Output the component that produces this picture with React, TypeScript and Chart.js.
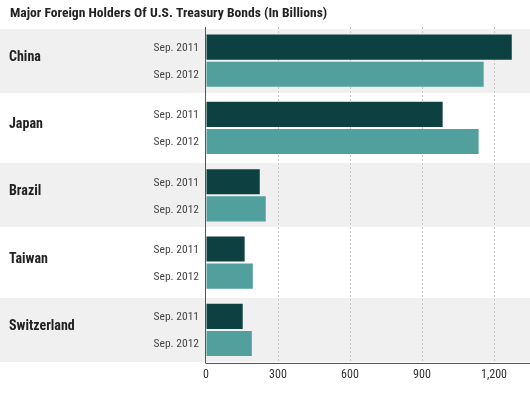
import React, { useEffect, useRef } from 'react';
import { Chart, registerables } from 'chart.js';

Chart.register(...registerables);

const chartTitle = 'Major Foreign Holders Of U.S. Treasury Bonds (In Billions)';
const countries = ['China', 'Japan', 'Brazil', 'Taiwan', 'Switzerland'];
const periods = ['Sep. 2011', 'Sep. 2012'];
const sep2011 = [1274, 986, 224, 161, 153];
const sep2012 = [1157, 1136, 249, 195, 191];
const xTicks = [0, 300, 600, 900, 1200];
const xMax = 1350;

const FONT = '"Liberation Sans Narrow", "Roboto Condensed", "Liberation Sans", Arial, sans-serif';
const DARK = '#0d4040';
const TEAL = '#52a09d';
const BAND = '#f0f0f0';

const decorPlugin = {
  id: 'decor',
  beforeDraw(chart: any) {
    const { ctx, width, height } = chart;
    const y = chart.scales.y;
    ctx.save();
    ctx.fillStyle = '#ffffff';
    ctx.fillRect(0, 0, width, height);
    ctx.fillStyle = BAND;
    countries.forEach((_, i) => {
      if (i % 2 === 0) {
        const c = y.getPixelForValue(i);
        ctx.fillRect(0, Math.round(c - 32), width, 64);
      }
    });
    ctx.restore();
  },
  afterDraw(chart: any) {
    const { ctx, chartArea } = chart;
    const x = chart.scales.x;
    const y = chart.scales.y;
    ctx.save();
    // left axis line
    const x0 = Math.round(x.getPixelForValue(0)) - 0.5;
    ctx.strokeStyle = '#555';
    ctx.lineWidth = 1;
    ctx.beginPath();
    ctx.moveTo(x0, chartArea.top);
    ctx.lineTo(x0, chartArea.bottom);
    ctx.stroke();

    // title
    ctx.fillStyle = '#222';
    ctx.textAlign = 'left';
    ctx.textBaseline = 'middle';
    ctx.font = `bold 13.6px ${FONT}`;
    ctx.fillText(chartTitle, 10, 14);

    // country labels
    ctx.font = `bold 14px ${FONT}`;
    ctx.fillStyle = '#222';
    countries.forEach((name, i) => {
      const c = y.getPixelForValue(i);
      ctx.fillText(name, 9, c - 3.5);
    });

    // period labels
    ctx.font = `11.5px ${FONT}`;
    ctx.fillStyle = '#444';
    ctx.textAlign = 'right';
    [0, 1].forEach((di) => {
      const meta = chart.getDatasetMeta(di);
      meta.data.forEach((bar: any) => {
        ctx.fillText(periods[di], 199, bar.y + 1);
      });
    });
    ctx.restore();
  },
};

export default function App() {
  const ref = useRef<HTMLCanvasElement>(null);
  useEffect(() => {
    if (!ref.current) return;
    const chart = new Chart(ref.current, {
      type: 'bar',
      data: {
        labels: countries,
        datasets: [
          {
            label: periods[0],
            data: sep2011,
            backgroundColor: DARK,
            categoryPercentage: 0.806,
            barPercentage: 0.926,
          },
          {
            label: periods[1],
            data: sep2012,
            backgroundColor: TEAL,
            categoryPercentage: 0.806,
            barPercentage: 0.926,
          },
        ],
      },
      options: {
        indexAxis: 'y',
        responsive: false,
        animation: false,
        layout: { padding: { left: 206, right: 0, top: 27, bottom: 11 } },
        plugins: {
          legend: { display: false },
          title: { display: false },
          tooltip: { enabled: false },
        },
        scales: {
          y: {
            type: 'category',
            display: false,
          },
          x: {
            type: 'linear',
            min: 0,
            max: xMax,
            afterBuildTicks: (s: any) => {
              s.ticks = xTicks.map((v) => ({ value: v }));
            },
            grid: {
              color: (ctx: any) => (ctx.tick && ctx.tick.value === 0 ? 'rgba(0,0,0,0)' : '#c8c8c8'),
              drawTicks: false,
              lineWidth: 1,
            },
            border: { display: true, color: '#555', width: 1, dash: [2, 2] },
            ticks: {
              color: '#333',
              padding: 4,
              font: { family: FONT, size: 12 },
              callback: (v: any) => Number(v).toLocaleString('en-US'),
            },
          },
        },
      },
      plugins: [decorPlugin],
    });
    return () => chart.destroy();
  }, []);
  return (
    <div style={{ position: 'absolute', left: 0, top: 0, width: 530, height: 397 }}>
      <canvas ref={ref} width={530} height={397} style={{ display: 'block' }} />
    </div>
  );
}
